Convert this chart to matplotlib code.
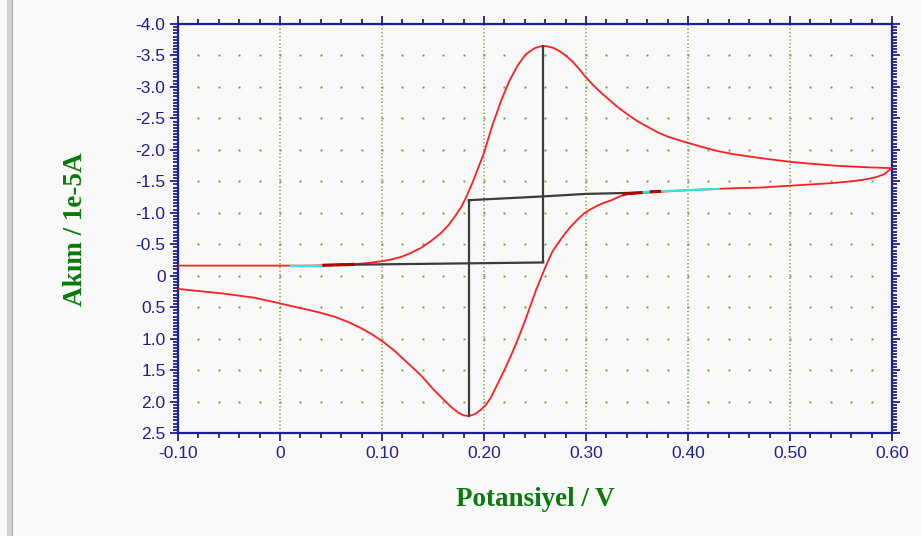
import numpy as np
import matplotlib
matplotlib.use("Agg")
import matplotlib.pyplot as plt
from matplotlib.patches import Rectangle

# forward (anodic) scan, potential in V, current in 1e-5 A
fwd_x = [-0.10, -0.05, 0.00, 0.03, 0.05, 0.07, 0.085, 0.10, 0.110, 0.119, 0.128, 0.138,
         0.148, 0.158, 0.165, 0.171, 0.178, 0.184, 0.189, 0.194, 0.200, 0.208, 0.217,
         0.225, 0.233, 0.241, 0.249, 0.254, 0.258, 0.262, 0.268, 0.274, 0.280, 0.287,
         0.294, 0.300, 0.307, 0.314, 0.321, 0.331, 0.341, 0.351, 0.361, 0.370, 0.380,
         0.396, 0.413, 0.429, 0.445, 0.462, 0.480, 0.500, 0.520, 0.543, 0.560, 0.580,
         0.600]
fwd_y = [-0.16, -0.16, -0.16, -0.16, -0.17, -0.18, -0.20, -0.23, -0.26, -0.30, -0.36, -0.44,
         -0.55, -0.68, -0.80, -0.93, -1.10, -1.30, -1.49, -1.70, -1.95, -2.38, -2.79,
         -3.10, -3.34, -3.52, -3.61, -3.64, -3.65, -3.645, -3.62, -3.57, -3.50, -3.40,
         -3.27, -3.15, -3.03, -2.92, -2.82, -2.68, -2.56, -2.45, -2.36, -2.28, -2.21,
         -2.13, -2.05, -1.98, -1.93, -1.89, -1.85, -1.81, -1.78, -1.75, -1.735, -1.72,
         -1.71]

# reverse (cathodic) scan
rev_x = [0.600, 0.596, 0.592, 0.586, 0.580, 0.570, 0.560, 0.540, 0.520, 0.500, 0.470,
         0.445, 0.416, 0.390, 0.370, 0.354, 0.341, 0.333, 0.325, 0.318, 0.312, 0.305,
         0.298, 0.291, 0.285, 0.280, 0.275, 0.271, 0.267, 0.263, 0.259, 0.255, 0.251,
         0.245, 0.241, 0.233, 0.227, 0.220, 0.213, 0.207, 0.202, 0.197, 0.191, 0.185,
         0.180, 0.175, 0.168, 0.161, 0.150, 0.138, 0.130, 0.122, 0.112, 0.101, 0.090,
         0.079, 0.066, 0.053, 0.040, 0.027, 0.013, 0.000, -0.025, -0.058, -0.100]
rev_y = [-1.71, -1.66, -1.61, -1.575, -1.55, -1.52, -1.50, -1.47, -1.45, -1.43, -1.40,
         -1.39, -1.37, -1.35, -1.33, -1.315, -1.30, -1.26, -1.20, -1.16, -1.12, -1.06,
         -0.99, -0.88, -0.78, -0.68, -0.57, -0.48, -0.38, -0.24, -0.09, 0.07, 0.23,
         0.50, 0.68, 1.02, 1.25, 1.50, 1.73, 1.93, 2.05, 2.13, 2.20, 2.23,
         2.22, 2.18, 2.09, 1.98, 1.80, 1.58, 1.46, 1.34, 1.19, 1.05, 0.93,
         0.83, 0.73, 0.65, 0.59, 0.54, 0.49, 0.44, 0.35, 0.28, 0.21]

# baselines and peak-height markers
base1_x = [0.043, 0.258]
base1_y = [-0.17, -0.21]
base2_x = [0.185, 0.258, 0.300, 0.354]
base2_y = [-1.20, -1.26, -1.30, -1.32]
peak_a = (0.258, -3.65)
peak_c = (0.185, 2.23)
sel_fwd_x = [0.011, 0.043]
sel_fwd_y = [-0.16, -0.16]
mark_fwd_x = [0.043, 0.072]
mark_fwd_y = [-0.165, -0.18]
sel_rev_x = [0.354, 0.372, 0.400, 0.430]
sel_rev_y = [-1.33, -1.34, -1.36, -1.38]
mark_rev_x = [[0.337, 0.354], [0.364, 0.372]]
mark_rev_y = [[-1.30, -1.32], [-1.335, -1.34]]

xticks = [-0.10, 0.0, 0.10, 0.20, 0.30, 0.40, 0.50, 0.60]
xlabels = ["-0.10", "0", "0.10", "0.20", "0.30", "0.40", "0.50", "0.60"]
yticks = [-4.0, -3.5, -3.0, -2.5, -2.0, -1.5, -1.0, -0.5, 0.0, 0.5, 1.0, 1.5, 2.0, 2.5]
ylabels = ["-4.0", "-3.5", "-3.0", "-2.5", "-2.0", "-1.5", "-1.0", "-0.5", "0",
           "0.5", "1.0", "1.5", "2.0", "2.5"]

bg = "#f9f9f9"
blue = "#1f1f95"
grid_green = "#6f9f3a"
label_green = "#0a7a0a"

fig = plt.figure(figsize=(9.21, 5.36), dpi=100, facecolor=bg)
ax = fig.add_axes([178 / 921, 1 - 433 / 536, (892 - 178) / 921, (433 - 24) / 536])
ax.set_facecolor(bg)

# left window border strip
fig.add_artist(Rectangle((7 / 921, 0), 6 / 921, 1, transform=fig.transFigure,
                         facecolor="#d2d2d2", edgecolor="none"))
fig.add_artist(Rectangle((12 / 921, 0), 1.2 / 921, 1, transform=fig.transFigure,
                         facecolor="#a8a8a8", edgecolor="none"))

ax.set_xlim(-0.10, 0.60)
ax.set_ylim(2.5, -4.0)

# grid: dotted verticals at major x, dot rows at major y
for xv in xticks[1:-1]:
    ax.plot([xv, xv], [2.5, -4.0], color=grid_green, lw=1.1,
            linestyle=(0, (0.8, 1.6)), zorder=1)
gx = np.arange(-0.08, 0.59, 0.02)
for yv in yticks[1:-1]:
    ax.plot(gx, [yv] * len(gx), linestyle="none", marker="s", ms=1.4,
            color=grid_green, mec="none", zorder=1)

ax.plot(fwd_x, fwd_y, color="#ff1f1f", lw=1.3, zorder=3)
ax.plot(rev_x, rev_y, color="#ff1f1f", lw=1.3, zorder=3)

dark = "#3c3c3c"
ax.plot(base1_x, base1_y, color=dark, lw=1.6, zorder=4)
ax.plot(base2_x, base2_y, color=dark, lw=1.6, zorder=4)
ax.plot([peak_a[0], peak_a[0]], [peak_a[1], base1_y[-1]], color=dark, lw=1.6, zorder=4)
ax.plot([peak_c[0], peak_c[0]], [base2_y[0], peak_c[1]], color=dark, lw=1.6, zorder=4)

ax.plot(sel_fwd_x, sel_fwd_y, color="#2ee6e6", lw=1.6, zorder=5)
ax.plot(sel_rev_x, sel_rev_y, color="#2ee6e6", lw=1.6, zorder=5)
ax.plot(mark_fwd_x, mark_fwd_y, color="#b00000", lw=2.2, zorder=5)
for mx, my in zip(mark_rev_x, mark_rev_y):
    ax.plot(mx, my, color="#b00000", lw=2.2, zorder=5)

ax.set_xticks(xticks)
ax.set_xticklabels(xlabels)
ax.set_yticks(yticks)
ax.set_yticklabels(ylabels)
ax.set_xticks(np.arange(-0.10, 0.6001, 0.02), minor=True)
ax.set_yticks(np.arange(-4.0, 2.5001, 0.05), minor=True)

for s in ax.spines.values():
    s.set_color(blue)
    s.set_linewidth(1.6)
ax.tick_params(which="both", direction="out", color=blue, width=1.3,
               top=True, right=True, labelcolor=blue)
ax.tick_params(which="major", length=6, labelsize=12.5, pad=3)
ax.tick_params(which="minor", length=3.5)
for lab in ax.get_xticklabels() + ax.get_yticklabels():
    lab.set_family("Liberation Sans")

fig.text(535 / 921, 1 - 500 / 536, "Potansiyel / V", ha="center", va="center",
         family="Liberation Serif", fontweight="bold", fontsize=19.5, color=label_green)
fig.text(75 / 921, 1 - 229 / 536, "Akım / 1e-5A", ha="center", va="center",
         rotation=90, family="Liberation Serif", fontweight="bold", fontsize=19.5,
         color=label_green)

fig.savefig("out.png", dpi=100, facecolor=bg)
